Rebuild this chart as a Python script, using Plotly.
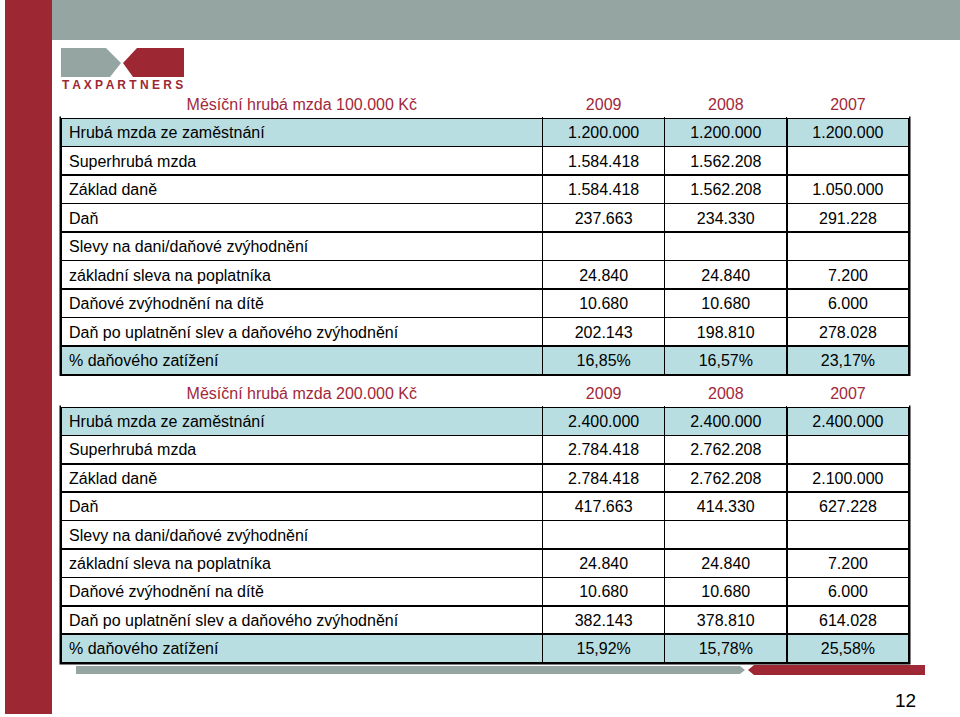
import plotly.graph_objects as go

W, H = 960, 717
FONT = "Liberation Sans, Arial, sans-serif"
RED = "#A2283A"
BAR_RED = "#9E2734"
GRAY = "#94A5A2"
TEAL = "#B8DEE2"

# --- data ---
years = ["2009", "2008", "2007"]
titles = ["Měsíční hrubá mzda 100.000 Kč", "Měsíční hrubá mzda 200.000 Kč"]
labels = ["Hrubá mzda ze zaměstnání", "Superhrubá mzda", "Základ daně", "Daň",
          "Slevy na dani/daňové zvýhodnění", "základní sleva na poplatníka",
          "Daňové zvýhodnění na dítě", "Daň po uplatnění slev a daňového zvýhodnění",
          "% daňového zatížení"]

# mzda 100.000 Kč
t1_2009 = [1200000, 1584418, 1584418, 237663, None, 24840, 10680, 202143, 16.85]
t1_2008 = [1200000, 1562208, 1562208, 234330, None, 24840, 10680, 198810, 16.57]
t1_2007 = [1200000, None, 1050000, 291228, None, 7200, 6000, 278028, 23.17]

# mzda 200.000 Kč
t2_2009 = [2400000, 2784418, 2784418, 417663, None, 24840, 10680, 382143, 15.92]
t2_2008 = [2400000, 2762208, 2762208, 414330, None, 24840, 10680, 378810, 15.78]
t2_2007 = [2400000, None, 2100000, 627228, None, 7200, 6000, 614028, 25.58]

highlight = [0, 8]  # radky s modrym podkladem


def fmt(v):
    if v is None:
        return ""
    if isinstance(v, float):
        return f"{v:.2f}".replace(".", ",") + "%"
    return f"{v:,}".replace(",", ".")


def px(x):
    return x / W


def py(y):
    return 1 - y / H


def make_table(title, cols, top, bottom, row_h):
    row_fill = [TEAL if i in highlight else "white" for i in range(len(labels))]
    return go.Table(
        domain=dict(x=[px(61), px(909)], y=[py(bottom), py(top)]),
        columnwidth=[481, 122, 122, 122],
        header=dict(
            values=[title] + years, height=28, align="center",
            fill_color="white", line=dict(color="rgba(0,0,0,0)", width=0),
            font=dict(family=FONT, size=16, color=RED),
        ),
        cells=dict(
            values=[labels] + [[fmt(v) for v in c] for c in cols],
            height=row_h, align=["left", "center", "center", "center"],
            fill_color=[row_fill] * 4, line=dict(color="black", width=1.5),
            font=dict(family=FONT, size=16, color="black"),
        ),
    )


fig = go.Figure()
fig.add_trace(make_table(titles[0], [t1_2009, t1_2008, t1_2007], 90, 385, 28.5))
fig.add_trace(make_table(titles[1], [t2_2009, t2_2008, t2_2007], 379, 672, 28.4))


def path(points):
    return "M " + " L ".join(f"{px(x)},{py(y)}" for x, y in points) + " Z"


shapes = [
    # leva cervena lista a horni seda lista
    dict(type="rect", x0=px(5), x1=px(52), y0=py(714), y1=py(0), fillcolor=BAR_RED),
    dict(type="rect", x0=px(52), x1=px(960), y0=py(40), y1=py(0), fillcolor=GRAY),
    # logo
    dict(type="path", path=path([(61, 48), (106, 48), (121, 63), (110, 77), (61, 77)]), fillcolor=GRAY),
    dict(type="path", path=path([(137, 48), (184, 48), (184, 77), (133, 77), (123, 63)]), fillcolor=BAR_RED),
    # ramecky tabulek
    dict(type="rect", x0=px(61), x1=px(909), y0=py(374.5), y1=py(118), line=dict(color="black", width=3)),
    dict(type="rect", x0=px(61), x1=px(909), y0=py(663), y1=py(407), line=dict(color="black", width=3)),
    # spodni listy
    dict(type="path", path=path([(76, 666), (740, 666), (745, 670), (740, 674), (76, 674)]), fillcolor=GRAY),
    dict(type="path", path=path([(754, 665), (925, 665), (925, 675), (754, 675), (748, 670)]), fillcolor=BAR_RED),
]
for s in shapes:
    s.update(xref="paper", yref="paper", layer="below")
    s.setdefault("line", dict(width=0))

fig.update_layout(
    width=W, height=H, margin=dict(l=0, r=0, t=0, b=0),
    paper_bgcolor="white", plot_bgcolor="white",
    xaxis=dict(visible=False), yaxis=dict(visible=False),
    shapes=shapes, showlegend=False,
    annotations=[
        dict(text="<b>T A X P A R T N E R S</b>", x=px(122.5), y=py(85), xref="paper", yref="paper",
             xanchor="center", yanchor="middle", showarrow=False,
             font=dict(family=FONT, size=12, color=BAR_RED)),
        dict(text="12", x=px(905), y=py(700), xref="paper", yref="paper",
             xanchor="center", yanchor="middle", showarrow=False,
             font=dict(family=FONT, size=19, color="black")),
    ],
)

fig.write_html("out.html", config={"displayModeBar": False},
               post_script="document.body.style.margin='0';")
